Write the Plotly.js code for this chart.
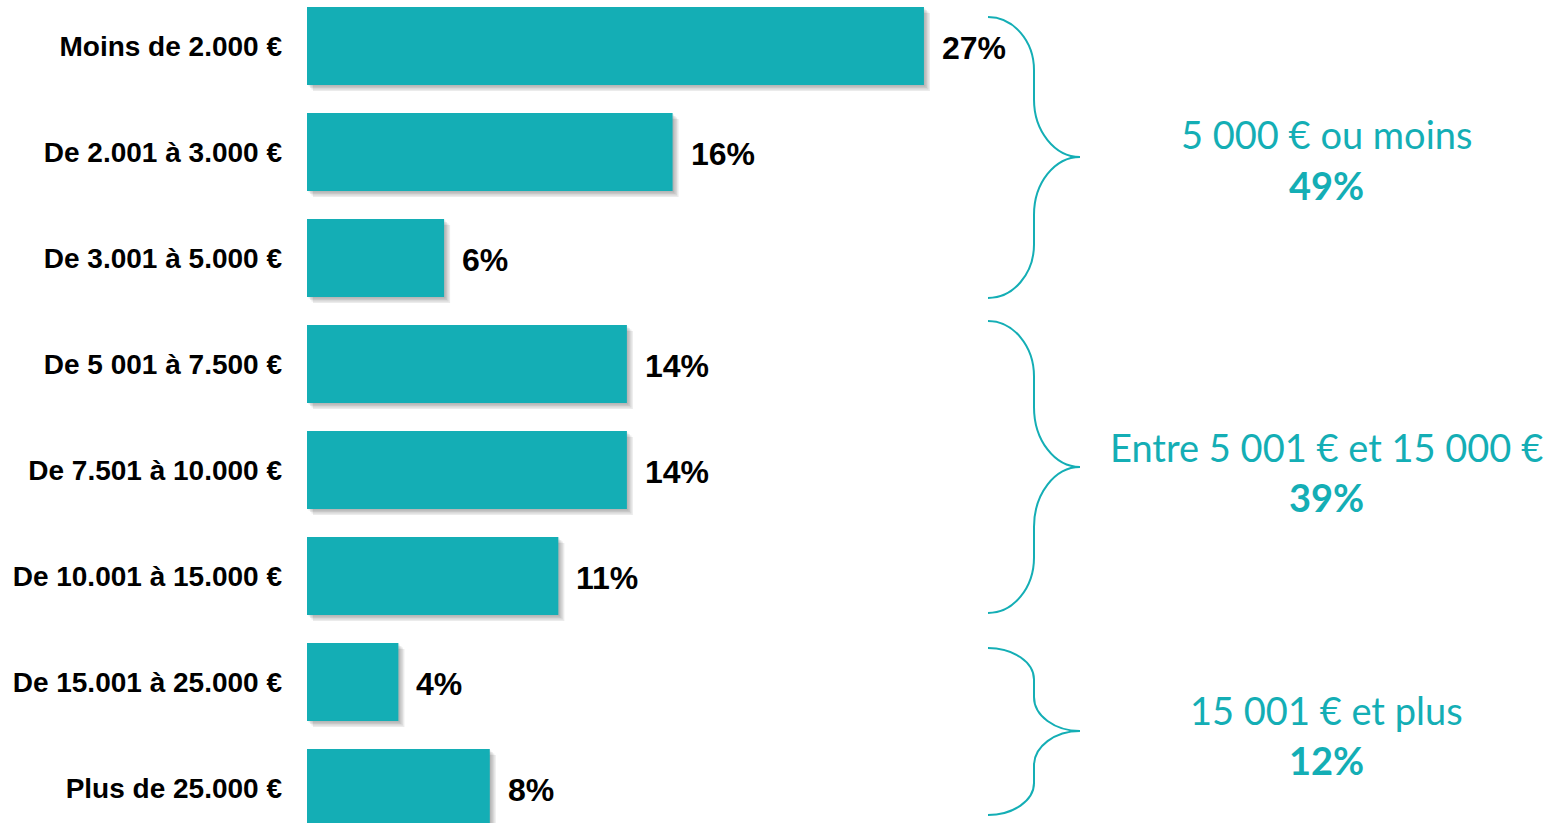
<!DOCTYPE html>
<html>
<head>
<meta charset="utf-8">
<script src="https://cdn.plot.ly/plotly-3.0.1.min.js"></script>
<style>
  html, body { margin: 0; padding: 0; background: #ffffff; }
  #chart { width: 1558px; height: 823px; }
</style>
</head>
<body>
<div id="chart"></div>
<script>
// ---- Data ----
const categories = [
  "Moins de 2.000 €",
  "De 2.001 à 3.000 €",
  "De 3.001 à 5.000 €",
  "De 5 001 à 7.500 €",
  "De 7.501 à 10.000 €",
  "De 10.001 à 15.000 €",
  "De 15.001 à 25.000 €",
  "Plus de 25.000 €"
];
const values = [27, 16, 6, 14, 14, 11, 4, 8];

const groupLabels = ["5 000 € ou moins", "Entre 5 001 € et 15 000 €", "15 001 € et plus"];
const groupTotals = [49, 39, 12];

// ---- Layout constants ----
const W = 1558, H = 823;
const LEFT = 307;
const PX_PER_UNIT = 22.85;
const xMax = (W - LEFT) / PX_PER_UNIT;
const yTop = -0.434, yBottom = 7.33;
const PX_PER_CAT = 106;
const TEAL = "#14AEB5";
const BAR_W = 0.736;

const px2paperX = px => (px - LEFT) / (W - LEFT);
const px2paperY = py => 1 - py / H;

// ---- Traces ----
const traces = [];
const shadowSteps = [1, 2, 3, 4];
shadowSteps.forEach(k => {
  const d = 1.5 * k;
  traces.push({
    type: "bar", orientation: "h",
    y: categories, x: values,
    base: d / PX_PER_UNIT,
    width: BAR_W, offset: -BAR_W / 2 + d / PX_PER_CAT,
    marker: { color: "rgba(0,0,0,0.08)", line: { width: 0 } },
    hoverinfo: "skip", showlegend: false
  });
});
traces.push({
  type: "bar", orientation: "h",
  y: categories, x: values,
  width: BAR_W, offset: -BAR_W / 2,
  marker: { color: TEAL, line: { width: 0 } },
  hoverinfo: "skip", showlegend: false
});

// ---- Value labels ----
const annotations = categories.map((c, i) => ({
  xref: "x", yref: "y", x: values[i], y: c,
  text: values[i] + "%", showarrow: false,
  xanchor: "left", yanchor: "middle", xshift: 16, yshift: -2,
  font: { family: "Liberation Sans, Arial, sans-serif", size: 32, weight: "bold", color: "#000000" }
}));

// ---- Braces & group labels ----
const braces = [
  { top: 17, tip: 157, bottom: 298 },
  { top: 321, tip: 467, bottom: 613 },
  { top: 648, tip: 731, bottom: 815 }
];
const X0 = 988, X1 = 1034, X2 = 1080;
function P(x, y) { return px2paperX(x).toFixed(5) + "," + px2paperY(y).toFixed(5); }
function bracePath(b) {
  const h1 = b.tip - b.top, h2 = b.bottom - b.tip;
  const a1 = h1 * 0.38, v1 = h1 * 0.21, c1 = h1 - a1 - v1;
  const a2 = h2 * 0.38, v2 = h2 * 0.21, c2 = h2 - a2 - v2;
  const k = 0.55;
  const dx1 = X1 - X0, dx2 = X2 - X1;
  let s = "M " + P(X0, b.top);
  s += " C " + P(X0 + k * dx1, b.top) + " " + P(X1, b.top + a1 - k * a1) + " " + P(X1, b.top + a1);
  s += " L " + P(X1, b.top + a1 + v1);
  s += " C " + P(X1, b.top + a1 + v1 + k * c1) + " " + P(X2 - k * dx2, b.tip) + " " + P(X2, b.tip);
  s += " C " + P(X2 - k * dx2, b.tip) + " " + P(X1, b.tip + c2 - k * c2) + " " + P(X1, b.tip + c2);
  s += " L " + P(X1, b.tip + c2 + v2);
  s += " C " + P(X1, b.tip + c2 + v2 + k * a2) + " " + P(X0 + k * dx1, b.bottom) + " " + P(X0, b.bottom);
  return s;
}
const shapes = braces.map(b => ({
  type: "path", xref: "paper", yref: "paper",
  path: bracePath(b),
  line: { color: TEAL, width: 2 }
}));

const groupY = [[134, 185], [447, 497], [710, 760]];
const GX = 1326;
groupLabels.forEach((g, i) => {
  annotations.push({
    xref: "paper", yref: "paper", x: px2paperX(GX), y: px2paperY(groupY[i][0]),
    text: g, showarrow: false, xanchor: "center", yanchor: "middle",
    font: { family: "Lato, 'Open Sans', sans-serif", size: 38, color: TEAL }
  });
  annotations.push({
    xref: "paper", yref: "paper", x: px2paperX(GX), y: px2paperY(groupY[i][1]),
    text: groupTotals[i] + "%", showarrow: false, xanchor: "center", yanchor: "middle",
    font: { family: "Lato, 'Open Sans', sans-serif", size: 38, weight: "bold", color: TEAL }
  });
});

const layout = {
  width: W, height: H,
  margin: { l: LEFT, r: 0, t: 0, b: 0, pad: 0 },
  paper_bgcolor: "#ffffff", plot_bgcolor: "#ffffff",
  barmode: "overlay",
  showlegend: false,
  xaxis: {
    range: [0, xMax], visible: false, fixedrange: true
  },
  yaxis: {
    type: "category", categoryorder: "array", categoryarray: categories,
    range: [yBottom, yTop],
    showgrid: false, zeroline: false, showline: false,
    ticks: "", ticklabelstandoff: 24,
    tickfont: { family: "Liberation Sans, Arial, sans-serif", size: 28, weight: "bold", color: "#000000" },
    fixedrange: true
  },
  annotations: annotations,
  shapes: shapes
};

Plotly.newPlot("chart", traces, layout, { staticPlot: true, displayModeBar: false });
</script>
</body>
</html>
